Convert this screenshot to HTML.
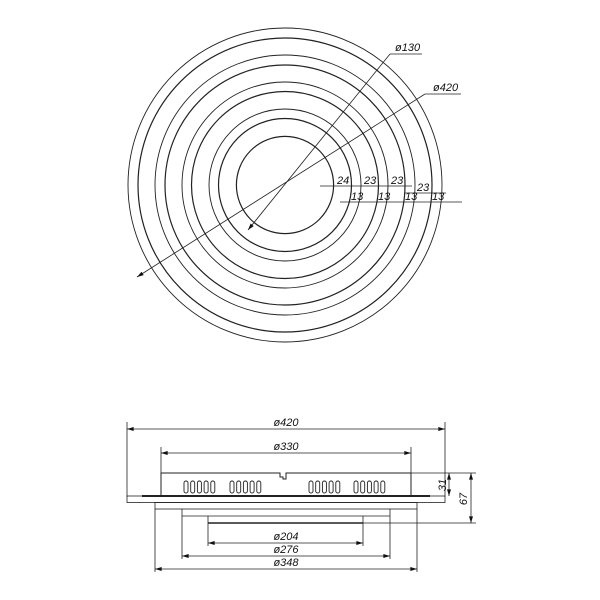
<!DOCTYPE html>
<html><head><meta charset="utf-8"><style>
html,body{margin:0;padding:0;background:#fff;}
svg{display:block;}
text{font-family:"Liberation Sans",sans-serif;font-style:italic;font-size:11px;fill:#111;}
</style></head><body>
<svg width="600" height="600" viewBox="0 0 600 600" xmlns="http://www.w3.org/2000/svg">
<defs>
<marker id="a" viewBox="0 0 10 6" refX="10" refY="3" markerWidth="8" markerHeight="4" markerUnits="userSpaceOnUse" orient="auto-start-reverse"><path d="M0,0L10,3L0,6z" fill="#111"/></marker>
</defs>
<g fill="none" stroke="#222">
<circle cx="285" cy="185" r="157" stroke-width="0.9"/>
<circle cx="285" cy="185" r="147" stroke-width="1.2"/>
<circle cx="285" cy="185" r="130" stroke-width="0.9"/>
<circle cx="285" cy="185" r="120" stroke-width="1.2"/>
<circle cx="285" cy="185" r="103" stroke-width="0.9"/>
<circle cx="285" cy="185" r="93.5" stroke-width="1.2"/>
<circle cx="285" cy="185" r="76" stroke-width="0.9"/>
<circle cx="285" cy="185" r="66.5" stroke-width="1.2"/>
<circle cx="285" cy="185" r="48.6" stroke-width="1.2"/>
</g>
<g stroke="#222" stroke-width="0.8" fill="none">
<line x1="248" y1="230" x2="390" y2="54" marker-start="url(#a)"/>
<line x1="390" y1="54" x2="422" y2="54"/>
<line x1="137" y1="277" x2="425" y2="94" marker-start="url(#a)"/>
<line x1="425" y1="94" x2="461" y2="94"/>
<line x1="320" y1="186" x2="412" y2="186"/>
<line x1="405" y1="193" x2="446" y2="193"/>
<line x1="340" y1="202" x2="462" y2="202"/>
</g>
<text x="395" y="51">ø130</text>
<text x="433" y="91">ø420</text>
<text x="337" y="184">24</text>
<text x="364" y="184">23</text>
<text x="391" y="184">23</text>
<text x="417" y="191">23</text>
<text x="351" y="200">13</text>
<text x="378" y="200">13</text>
<text x="405" y="200">13</text>
<text x="432" y="200">13</text>

<g stroke="#222" stroke-width="0.8" fill="none">
<line x1="127" y1="422" x2="127" y2="497"/>
<line x1="445" y1="422" x2="445" y2="497"/>
<line x1="127" y1="429" x2="445" y2="429" marker-start="url(#a)" marker-end="url(#a)"/>
<line x1="161" y1="447" x2="161" y2="473"/>
<line x1="411" y1="447" x2="411" y2="473"/>
<line x1="161" y1="453" x2="411" y2="453" marker-start="url(#a)" marker-end="url(#a)"/>
<path d="M161,496V473H280V477H283V479H286V473H411V496" stroke-width="1"/>
<rect x="127" y="496" width="318" height="6.5"/>
<line x1="142" y1="496" x2="430" y2="496" stroke-width="2"/>
<rect x="155" y="502.5" width="262" height="6.5"/>
<line x1="182" y1="509" x2="182" y2="559"/>
<line x1="390" y1="509" x2="390" y2="559"/>
<line x1="182" y1="516" x2="390" y2="516"/>
<line x1="208" y1="516" x2="208" y2="546"/>
<line x1="363" y1="516" x2="363" y2="546"/>
<line x1="208" y1="523" x2="363" y2="523" stroke-width="1.4"/>
<line x1="155" y1="509" x2="155" y2="572"/>
<line x1="417" y1="509" x2="417" y2="572"/>
<line x1="208" y1="543" x2="363" y2="543" marker-start="url(#a)" marker-end="url(#a)"/>
<line x1="182" y1="556" x2="390" y2="556" marker-start="url(#a)" marker-end="url(#a)"/>
<line x1="155" y1="569" x2="417" y2="569" marker-start="url(#a)" marker-end="url(#a)"/>
<line x1="411" y1="473" x2="476" y2="473"/>
<line x1="363" y1="523" x2="476" y2="523"/>
<line x1="449" y1="473" x2="449" y2="496" marker-start="url(#a)" marker-end="url(#a)"/>
<line x1="471" y1="473" x2="471" y2="523" marker-start="url(#a)" marker-end="url(#a)"/>
</g>
<g fill="none" stroke="#222" stroke-width="0.9">
<rect x="184" y="481" width="4" height="12" rx="2"/><rect x="190.7" y="481" width="4" height="12" rx="2"/><rect x="197.4" y="481" width="4" height="12" rx="2"/><rect x="204.1" y="481" width="4" height="12" rx="2"/><rect x="210.8" y="481" width="4" height="12" rx="2"/>
<rect x="230" y="481" width="4" height="12" rx="2"/><rect x="236.7" y="481" width="4" height="12" rx="2"/><rect x="243.4" y="481" width="4" height="12" rx="2"/><rect x="250.1" y="481" width="4" height="12" rx="2"/><rect x="256.8" y="481" width="4" height="12" rx="2"/>
<rect x="309" y="481" width="4" height="12" rx="2"/><rect x="315.7" y="481" width="4" height="12" rx="2"/><rect x="322.4" y="481" width="4" height="12" rx="2"/><rect x="329.1" y="481" width="4" height="12" rx="2"/><rect x="335.8" y="481" width="4" height="12" rx="2"/>
<rect x="354" y="481" width="4" height="12" rx="2"/><rect x="360.7" y="481" width="4" height="12" rx="2"/><rect x="367.4" y="481" width="4" height="12" rx="2"/><rect x="374.1" y="481" width="4" height="12" rx="2"/><rect x="380.8" y="481" width="4" height="12" rx="2"/>
</g>
<text x="286" y="426" text-anchor="middle">ø420</text>
<text x="286" y="450" text-anchor="middle">ø330</text>
<text x="286" y="540" text-anchor="middle">ø204</text>
<text x="286" y="553" text-anchor="middle">ø276</text>
<text x="286" y="566" text-anchor="middle">ø348</text>
<text x="446" y="485" text-anchor="middle" transform="rotate(-90 446 485)">31</text>
<text x="467" y="499" text-anchor="middle" transform="rotate(-90 467 499)">67</text>
</svg>
</body></html>
